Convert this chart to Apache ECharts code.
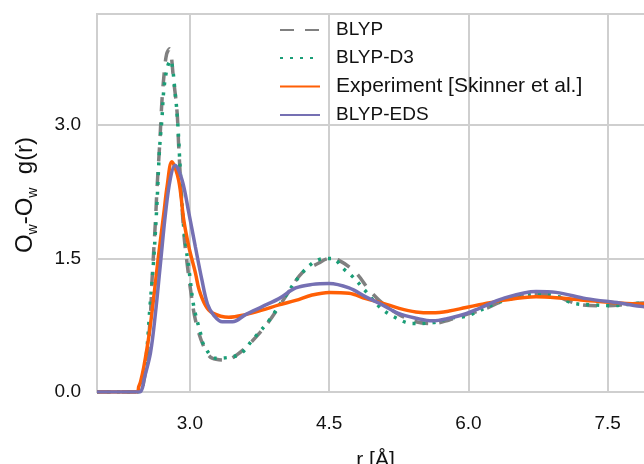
<!DOCTYPE html>
<html>
<head>
<meta charset="utf-8">
<script src="https://cdn.jsdelivr.net/npm/echarts@6/dist/echarts.min.js"></script>
<style>
	html, body { margin: 0; padding: 0; background: #fff; }
	#main { width: 644px; height: 464px; }
</style>
</head>
<body>
<div id="main"></div>
<script>
var names = ['BLYP', 'BLYP-D3', 'Experiment [Skinner et al.]', 'BLYP-EDS']
var xTicks = [3.0, 4.5, 6.0, 7.5]
var yTicks = [0.0, 1.5, 3.0]

var rBlyp = [2.0, 2.45, 2.49, 2.536, 2.576, 2.593, 2.63, 2.647, 2.676, 2.70, 2.727, 2.75, 2.78, 2.827, 2.863, 2.88, 2.90, 2.935, 2.97, 3.008, 3.06, 3.15, 3.24, 3.385, 3.51, 3.67, 3.85, 4.03, 4.21, 4.39, 4.50, 4.607, 4.79, 4.93, 5.074, 5.255, 5.435, 5.614, 5.794, 5.974, 6.19, 6.37, 6.73, 6.91, 7.09, 7.23, 7.45, 7.66, 7.88, 8.0]
var gBlyp = [0, 0, 0.05, 0.35, 0.88, 1.26, 1.93, 2.3, 2.8, 3.28, 3.62, 3.8, 3.86, 3.49, 3.14, 2.76, 2.38, 1.79, 1.45, 1.15, 0.81, 0.51, 0.38, 0.36, 0.42, 0.57, 0.79, 1.07, 1.34, 1.45, 1.50, 1.48, 1.34, 1.15, 1.0, 0.87, 0.79, 0.77, 0.81, 0.87, 0.94, 1.02, 1.10, 1.09, 1.02, 0.98, 0.97, 0.98, 1.0, 1.0]

var rD3 = [2.0, 2.44, 2.48, 2.53, 2.57, 2.61, 2.645, 2.673, 2.70, 2.72, 2.755, 2.79, 2.846, 2.874, 2.889, 2.93, 3.0, 3.043, 3.115, 3.15, 3.277, 3.42, 3.547, 3.67, 3.85, 4.03, 4.21, 4.35, 4.45, 4.54, 4.65, 4.75, 4.88, 5.04, 5.19, 5.40, 5.62, 5.80, 5.97, 6.07, 6.28, 6.50, 6.73, 6.95, 7.12, 7.34, 7.55, 7.88, 8.0]
var gD3 = [0, 0, 0.08, 0.4, 0.95, 1.48, 2.1, 2.72, 3.08, 3.40, 3.64, 3.73, 3.32, 2.95, 2.65, 1.9, 1.30, 0.96, 0.66, 0.53, 0.38, 0.39, 0.43, 0.58, 0.80, 1.08, 1.34, 1.47, 1.50, 1.50, 1.39, 1.30, 1.15, 0.96, 0.85, 0.77, 0.78, 0.83, 0.85, 0.89, 0.99, 1.06, 1.10, 1.08, 1.0, 0.98, 0.97, 1.0, 1.0]

var rExp = [2.0, 2.43, 2.45, 2.47, 2.504, 2.558, 2.612, 2.666, 2.72, 2.755, 2.806, 2.88, 2.935, 2.99, 3.06, 3.10, 3.17, 3.24, 3.42, 3.60, 3.777, 3.96, 4.14, 4.316, 4.50, 4.715, 4.895, 5.074, 5.255, 5.435, 5.614, 5.794, 5.974, 6.118, 6.369, 6.729, 6.945, 7.269, 7.628, 7.879, 8.0]
var gExp = [0, 0, 0.06, 0.12, 0.28, 0.62, 1.07, 1.56, 2.01, 2.31, 2.59, 2.38, 1.93, 1.63, 1.34, 1.15, 0.97, 0.89, 0.84, 0.87, 0.92, 0.98, 1.03, 1.09, 1.12, 1.11, 1.05, 1.0, 0.94, 0.90, 0.89, 0.91, 0.95, 0.98, 1.03, 1.07, 1.06, 1.03, 1.0, 0.99, 0.99]

var rEds = [2.0, 2.46, 2.49, 2.504, 2.576, 2.63, 2.684, 2.738, 2.79, 2.84, 2.917, 2.99, 3.06, 3.13, 3.19, 3.26, 3.35, 3.46, 3.60, 3.78, 3.96, 4.14, 4.32, 4.50, 4.715, 4.895, 5.074, 5.255, 5.435, 5.614, 5.794, 5.974, 6.118, 6.37, 6.73, 6.945, 7.27, 7.63, 7.88, 8.0]
var gEds = [0, 0, 0.05, 0.13, 0.44, 0.89, 1.45, 2.01, 2.40, 2.55, 2.38, 2.01, 1.63, 1.26, 0.99, 0.86, 0.79, 0.79, 0.87, 0.96, 1.05, 1.17, 1.21, 1.22, 1.17, 1.07, 0.98, 0.88, 0.83, 0.80, 0.83, 0.88, 0.94, 1.05, 1.13, 1.12, 1.05, 1.0, 0.96, 0.95]

var font = "'Liberation Sans', Arial, sans-serif"
var gridColor = '#cfcfcf'

function pairs(xs, ys) {
	return xs.map(function(x, i) { return [x, ys[i]] })
}

function line(name, xs, ys, color, type) {
	return {
		name: name,
		type: 'line',
		data: pairs(xs, ys),
		smooth: 0.35,
		symbol: 'none',
		lineStyle: { color: color, width: 3.5, type: type, cap: 'butt' },
		itemStyle: { color: color }
	}
}

var chart = echarts.init(document.getElementById('main'))
chart.setOption({
	animation: false,
	textStyle: { fontFamily: font },
	grid: {
		left: 97, top: 14, right: -10, bottom: 72,
		outerBoundsMode: 'none',
		show: true, borderColor: gridColor, borderWidth: 2
	},
	legend: {
		orient: 'vertical',
		left: 279, top: 20,
		padding: 0,
		itemWidth: 40, itemHeight: 14, itemGap: 8,
		itemStyle: { opacity: 0 },
		data: names,
		// the long label is drawn a bit wider in the original
		formatter: function(name) {
			return name.indexOf('Experiment') === 0 ? '{big|' + name + '}' : name
		},
		textStyle: {
			fontSize: 19, color: '#111', lineHeight: 20, padding: [0, 0, 0, 11],
			rich: { big: { fontSize: 21, color: '#111', lineHeight: 20, fontFamily: font } }
		}
	},
	xAxis: {
		type: 'value',
		min: 2.0, max: 8.0,
		minInterval: 1.5, maxInterval: 1.5,
		name: 'r [Å]',
		nameLocation: 'middle',
		nameGap: 58,
		nameTextStyle: { fontSize: 21, color: '#111' },
		axisLine: { lineStyle: { color: gridColor, width: 2 } },
		axisTick: { show: false },
		splitLine: { lineStyle: { color: gridColor, width: 2 } },
		axisLabel: {
			fontSize: 19, color: '#111', margin: 22,
			showMinLabel: false, showMaxLabel: false,
			formatter: function(v) { return xTicks.indexOf(v) >= 0 ? v.toFixed(1) : '' }
		}
	},
	yAxis: {
		type: 'value',
		min: 0, max: 4.25, interval: 1.5,
		name: '{o|O}{s|w}{o|-O}{s|w}{o|  g(r)}',
		nameLocation: 'middle',
		nameGap: 60,
		nameTextStyle: {
			padding: [0, 0, 0, 16],
			rich: {
				o: { fontSize: 24, color: '#111', fontFamily: font },
				s: { fontSize: 14, color: '#111', fontFamily: font, verticalAlign: 'bottom', padding: [0, 0, -3, 0] }
			}
		},
		axisLine: { show: true, lineStyle: { color: gridColor, width: 2 } },
		axisTick: { show: false },
		splitLine: { lineStyle: { color: gridColor, width: 2 } },
		axisLabel: {
			fontSize: 19, color: '#111', margin: 16,
			showMaxLabel: false,
			formatter: function(v) { return yTicks.indexOf(v) >= 0 ? v.toFixed(1) : '' }
		}
	},
	series: [
		line(names[0], rBlyp, gBlyp, '#808080', [14, 11]),
		line(names[1], rD3, gD3, '#1a9e77', [3, 7]),
		line(names[2], rExp, gExp, '#ff5f05', 'solid'),
		line(names[3], rEds, gEds, '#7570b3', 'solid')
	]
})
</script>
</body>
</html>
